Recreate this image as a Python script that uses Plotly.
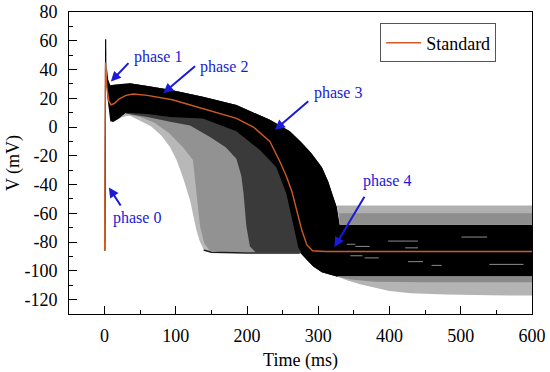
import plotly.graph_objects as go

# ---------------- data ----------------
# standard (red) action potential
std_t = [0, 0.6, 1.2, 3, 6, 9, 14, 20, 30, 40, 60, 95, 138, 185, 209, 232, 246, 255,
         263, 270, 277, 284, 292, 310, 600]
std_v = [-86, 0, 45, 28, 18, 15.5, 16.5, 19.5, 22, 23, 22, 19, 13, 6, 0, -10, -24, -34,
         -45, -58, -72, -82, -86, -86.5, -86.5]

# upper envelope of the population (latest repolarising traces)
upper_t = [1.5, 3, 5, 8, 15, 35, 60, 92, 138, 185, 232, 260, 275, 290, 305, 314, 320, 326, 330]
upper_v = [61, 42, 33, 29, 29.5, 30.5, 28.5, 26, 21, 15.3, 5, -3, -10, -18, -28, -38, -47, -56, -68]

# lower edge of the dense black band near the notch
notch_t = [1.5, 4, 8, 12, 20]
notch_v = [61, 20, 4, 3.5, 6]

# earliest repolarising traces (left edge of the light grey zone)
early_t = [14, 25, 35, 50, 65, 80, 92, 101, 110, 120, 129, 134, 139, 148, 165]
early_v = [4, 7, 8, 4.5, 0.5, -6, -14, -23, -35, -51, -72, -80, -85, -86.5, -87]

# boundary light grey -> striped grey
mid1_t = [30, 50, 70, 90, 110, 124, 129, 134, 140, 148, 165]
mid1_v = [9, 7, 3, -4, -14, -23, -46, -69, -81, -86, -87]

# boundary striped grey -> dark speckle
mid2_t = [30, 60, 92, 120, 148, 170, 185, 192, 195, 199, 204, 212]
mid2_v = [9.5, 7, 3.7, 1, -7, -14, -22, -34, -46, -69, -83, -87]

# boundary dark speckle -> solid black
mid3_t = [30, 60, 92, 138, 185, 218, 241, 255, 265, 272, 276]
mid3_v = [10, 9, 7, 6, -3, -16, -28, -46, -69, -84, -87]

# lower edge of the black band (phase 3 -> phase 4)
bottom_t = [274, 285, 293, 305, 326, 600]
bottom_v = [-87, -93, -97, -101, -104, -104]
black_top_rest = -68

# resting-level grey bands
band_hi_t = [326, 600, 600, 330]
band_hi_v = [-54.5, -54.5, -68, -68]
band_hi2_t = [329, 600, 600, 330]
band_hi2_v = [-60, -60, -68, -68]
band_lo_t = [326, 340, 360, 380, 400, 430, 480, 540, 600, 600]
band_lo_v = [-104, -106.5, -109.5, -112, -114, -115.5, -116.5, -117, -117.2, -104]
band_lo2_t = [326, 345, 380, 450, 600, 600]
band_lo2_v = [-104, -106, -107.5, -108, -108, -104]

# floor line of the early traces
floor_t = [139, 150, 200, 274]
floor_v = [-85.5, -87, -87.5, -87.5]

# short grey streaks inside the phase-4 band
dash_t0 = [340, 352, 345, 365, 398, 422, 426, 459, 501, 540]
dash_t1 = [352, 372, 362, 385, 440, 440, 447, 473, 537, 588]
dash_v = [-81.5, -83, -89.5, -91, -79.3, -84, -93.6, -96.2, -76.5, -95.5]

x_ticks = [0, 100, 200, 300, 400, 500, 600]
y_ticks = [-120, -100, -80, -60, -40, -20, 0, 20, 40, 60, 80]
y_ticktext = ['-120', '-100', '-80', '-60', '-40', '-20', '0', '20', '40', '60', '80']

# ---------------- figure ----------------
BLUE = '#1a1ad8'
RED = '#cf5a24'
FONT = 'Liberation Serif'


def region(lo_t, lo_v):
    start = lo_t[0]
    ut = [t for t in upper_t if t >= start]
    uv = [v for t, v in zip(upper_t, upper_v) if t >= start]
    xs = list(lo_t) + bottom_t + [600] + ut[::-1]
    ys = list(lo_v) + bottom_v + [black_top_rest] + uv[::-1]
    return xs, ys


fig = go.Figure()

layers = [
    (early_t, early_v, '#b8b8b8'),
    (mid1_t, mid1_v, '#929292'),
    (mid2_t, mid2_v, '#3a3a3a'),
    (notch_t + mid3_t, notch_v + mid3_v, '#000000'),
]
for lt, lv, col in layers:
    xs, ys = region(lt, lv)
    fig.add_trace(go.Scatter(x=xs, y=ys, mode='lines', fill='toself', fillcolor=col,
                             line=dict(width=0, color=col), hoverinfo='skip',
                             showlegend=False))

for bt, bv, col in [(band_hi_t, band_hi_v, '#b0b0b0'), (band_hi2_t, band_hi2_v, '#8e8e8e'),
                    (band_lo_t, band_lo_v, '#b4b4b4'), (band_lo2_t, band_lo2_v, '#8a8a8a')]:
    fig.add_trace(go.Scatter(x=bt, y=bv, mode='lines', fill='toself', fillcolor=col,
                             line=dict(width=0), hoverinfo='skip', showlegend=False))

fig.add_trace(go.Scatter(x=floor_t, y=floor_v, mode='lines',
                         line=dict(width=1.5, color='#1a1a1a'), showlegend=False))

# black spike
fig.add_trace(go.Scatter(x=[upper_t[0] - 1.1, upper_t[0]], y=[std_v[0], upper_v[0]],
                         mode='lines', line=dict(width=1.2, color='black'),
                         showlegend=False))

dx, dy = [], []
for a, b, v in zip(dash_t0, dash_t1, dash_v):
    dx += [a, b, None]
    dy += [v, v, None]
fig.add_trace(go.Scatter(x=dx, y=dy, mode='lines', line=dict(width=1, color='#8c8c8c'),
                         showlegend=False))

fig.add_trace(go.Scatter(x=std_t, y=std_v, mode='lines', name='Standard',
                         line=dict(width=1.4, color=RED)))

arrows = [
    ('phase 1', (8.8, 31.6), (35.5, 45.5), (75, 48.8)),
    ('phase 2', (82.3, 23.5), (129, 43.2), (168, 41.8)),
    ('phase 3', (239, -2), (288, 18.8), (328, 23.7)),
    ('phase 4', (322.5, -83.5), (366, -47.4), (397, -37.7)),
    ('phase 0', (6, -42), (23.9, -55.6), (45.5, -63.5)),
]
anns = []
for label, head, tail, txt in arrows:
    anns.append(dict(x=head[0], y=head[1], ax=tail[0], ay=tail[1], xref='x', yref='y',
                     axref='x', ayref='y', text='', showarrow=True, arrowhead=2,
                     arrowsize=1, arrowwidth=2, arrowcolor=BLUE, standoff=0))
    anns.append(dict(x=txt[0], y=txt[1], xref='x', yref='y', text=label, showarrow=False,
                     font=dict(family=FONT, size=16, color=BLUE)))

fig.update_layout(
    width=550, height=372,
    margin=dict(l=69, r=18, t=12, b=58, autoexpand=False),
    paper_bgcolor='white', plot_bgcolor='white',
    font=dict(family=FONT, size=18, color='black'),
    annotations=anns,
    legend=dict(x=0.672, y=0.962, xanchor='left', yanchor='top', bgcolor='white',
                bordercolor='#555555', borderwidth=1, itemwidth=35,
                font=dict(family=FONT, size=18, color='black')),
    xaxis=dict(range=[-50, 600], tickmode='array', tickvals=x_ticks, ticks='inside',
               ticklen=8, tickwidth=1, tickcolor='black', showline=True, linecolor='black',
               linewidth=1, mirror=True, showgrid=False, zeroline=False,
               ticklabelstandoff=5, automargin=False,
               minor=dict(tickmode='linear', tick0=0, dtick=50, ticks='inside', ticklen=4,
                          tickcolor='black', showgrid=False),
               title=dict(text='Time (ms)', standoff=8, font=dict(family=FONT, size=18))),
    yaxis=dict(range=[-130, 80], tickmode='array', tickvals=y_ticks, ticktext=y_ticktext,
               ticks='inside', ticklen=8, tickwidth=1, tickcolor='black', showline=True,
               linecolor='black', linewidth=1, mirror=True, showgrid=False, zeroline=False,
               ticklabelstandoff=7, automargin=False,
               minor=dict(tickmode='linear', tick0=0, dtick=10, ticks='inside', ticklen=4,
                          tickcolor='black', showgrid=False),
               title=dict(text='V (mV)', standoff=0, font=dict(family=FONT, size=18))),
)

fig.write_html('out.html', config={'displayModeBar': False},
               post_script="document.body.style.margin='0px';")
